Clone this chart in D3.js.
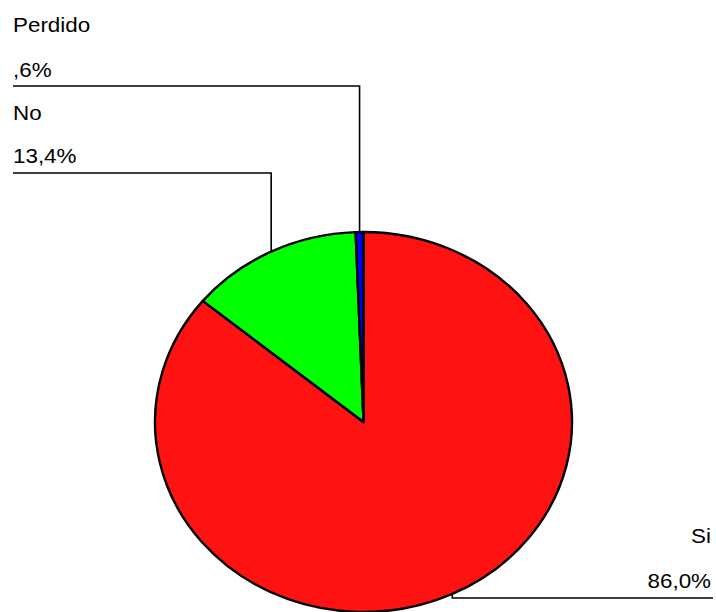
<!DOCTYPE html>
<html>
<head>
<meta charset="utf-8">
<script src="https://cdn.jsdelivr.net/npm/d3@7"></script>
<style>
  body { margin: 0; background: #fff; }
  svg { display: block; }
</style>
</head>
<body>
<div id="chart"></div>
<script>
// pie data (SPSS style, clockwise from 12 o'clock)
const categories = ["Si", "No", "Perdido"];
const values = [86.0, 13.4, 0.6];
const valueLabels = ["86,0%", "13,4%", ",6%"];
const colors = ["#ff1212", "#00ff00", "#0000ff"];

const width = 716;
const height = 612;

// the original is a bit stretched horizontally
const cx = 363.5, cy = 422;
const ry = 190, rx = 208.5;
const sx = rx / ry;

const svg = d3.select("#chart")
	.append("svg")
	.attr("width", width)
	.attr("height", height);

const pie = d3.pie().sort(null).value(d => d);
const arcs = pie(values);

const arc = d3.arc().innerRadius(0).outerRadius(ry);

// where a leader meets the rim: mid-angle of the slice
const rimPoint = a => [cx + rx * Math.sin(a), cy - ry * Math.cos(a)];

// label layout: line height and side for each category
const labelLayout = {
	"Perdido": { side: "left", nameY: 32, valueY: 77, lineY: 86 },
	"No": { side: "left", nameY: 120, valueY: 163, lineY: 173 },
	"Si": { side: "right", nameY: 543, valueY: 588, lineY: 598 },
};

// leaders first so the pie covers their ends
const leaders = svg.append("g");
arcs.forEach((d, i) => {
	const lay = labelLayout[categories[i]];
	const [px, py] = rimPoint((d.startAngle + d.endAngle) / 2);
	const endX = lay.side === "left" ? 13 : 713;
	leaders.append("path")
		.attr("d", `M${px},${py}L${px},${lay.lineY}L${endX},${lay.lineY}`)
		.attr("fill", "none")
		.attr("stroke", "#000")
		.attr("stroke-width", 1.6);
});

const g = svg.append("g")
	.attr("transform", `translate(${cx},${cy}) scale(${sx},1)`);

g.selectAll("path")
	.data(arcs)
	.join("path")
	.attr("d", arc)
	.attr("fill", (_, i) => colors[i])
	.attr("stroke", "#000")
	.attr("stroke-width", 2.4)
	.attr("stroke-linejoin", "round")
	.attr("vector-effect", "non-scaling-stroke");

// labels
const labels = svg.append("g")
	.style("font-family", "'Liberation Sans', Arial, sans-serif")
	.style("font-size", "20px")
	.attr("fill", "#000");

categories.forEach((c, i) => {
	const lay = labelLayout[c];
	const x = lay.side === "left" ? 13 : 711;
	const anchor = lay.side === "left" ? "start" : "end";
	labels.append("text")
		.attr("transform", `translate(${x},${lay.nameY}) scale(1.12,1)`)
		.attr("text-anchor", anchor)
		.text(c);
	labels.append("text")
		.attr("transform", `translate(${x},${lay.valueY}) scale(1.12,1)`)
		.attr("text-anchor", anchor)
		.text(valueLabels[i]);
});
</script>
</body>
</html>
